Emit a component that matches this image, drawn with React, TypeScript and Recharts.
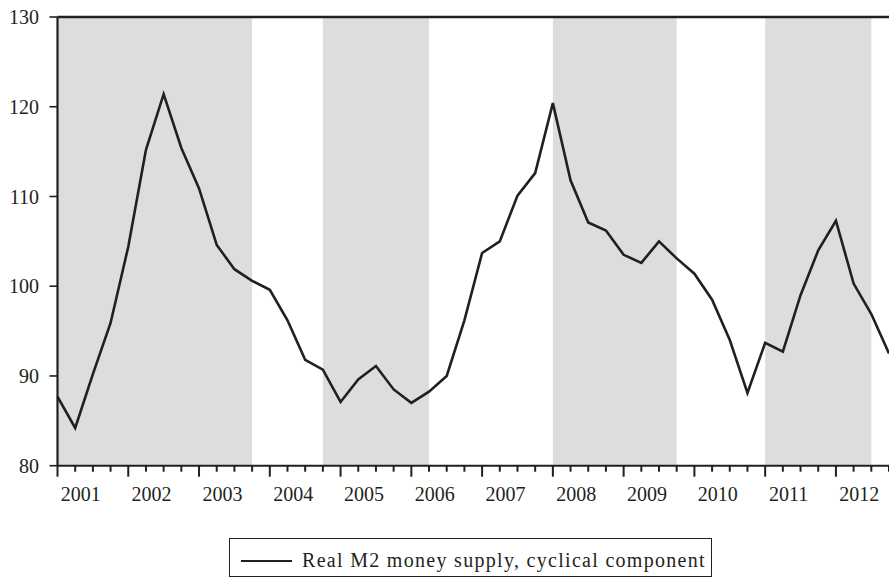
import React from "react";
import { LineChart, Line, XAxis, YAxis, ReferenceArea, ReferenceLine } from "recharts";

const years = ["2001", "2002", "2003", "2004", "2005", "2006", "2007", "2008", "2009", "2010", "2011", "2012"];

const m2Cycle = [
  87.7, 84.2, 90.2, 95.9, 104.4, 115.2, 121.4, 115.4, 110.9, 104.6, 101.9, 100.6,
  99.6, 96.2, 91.8, 90.7, 87.1, 89.6, 91.1, 88.5, 87.0, 88.25, 90.0, 96.2,
  103.7, 105.0, 110.1, 112.6, 120.4, 111.8, 107.1, 106.2, 103.5, 102.6, 105.0, 103.1,
  101.4, 98.5, 94.0, 88.1, 93.7, 92.7, 99.0, 104.0, 107.3, 100.3, 96.9, 92.5,
];

// shaded periods, as quarter indices (start, end)
const shadeStarts = [0, 15, 28, 40];
const shadeEnds = [11, 21, 35, 46];

const yTicks = [80, 90, 100, 110, 120, 130];

const INK = "#231f20";
const SHADE = "#dcdddf";
const FONT = "'Liberation Serif', 'Times New Roman', serif";

const PLOT_LEFT = 57.5;
const PLOT_RIGHT = 889;
const QUARTER_PX = (PLOT_RIGHT - PLOT_LEFT) / (m2Cycle.length - 1);
const LABEL_SHIFT = 1.32 * QUARTER_PX;

const data = m2Cycle.map((v, i) => ({ i, v }));
const quarterTicks = m2Cycle.map((_, i) => i);

const XTick = (props: any) => {
  const { x, y, payload } = props;
  const i = payload.value as number;
  const major = i % 4 === 0;
  const len = major ? 11 : 6;
  return (
    <g>
      <line x1={x} y1={y} x2={x} y2={y + len} stroke={INK} strokeWidth={2} />
      {major && (
        <text
          x={x + LABEL_SHIFT}
          y={y + 35.5}
          textAnchor="middle"
          fontFamily={FONT}
          fontSize={20}
          fill={INK}
        >
          {years[i / 4]}
        </text>
      )}
    </g>
  );
};

export default function App() {
  return (
    <div style={{ position: "absolute", left: 0, top: 0, width: 889, height: 579, overflow: "hidden", background: "#fff" }}>
      <LineChart
        width={900}
        height={579}
        data={data}
        margin={{ top: 17, right: 11, bottom: 0, left: 0 }}
      >
        {shadeStarts.map((s, k) => (
          <ReferenceArea
            key={k}
            x1={s}
            x2={shadeEnds[k]}
            fill={SHADE}
            fillOpacity={1}
            stroke="none"
          />
        ))}
        <XAxis
          type="number"
          dataKey="i"
          domain={[0, m2Cycle.length - 1]}
          ticks={quarterTicks}
          interval={0}
          tickLine={false}
          tickSize={0}
          tickMargin={0}
          height={113.3}
          axisLine={{ stroke: INK, strokeWidth: 2 }}
          tick={<XTick />}
        />
        <YAxis
          type="number"
          domain={[80, 130]}
          ticks={yTicks}
          interval={0}
          width={57.5}
          tickSize={8}
          tickMargin={10.5}
          axisLine={{ stroke: INK, strokeWidth: 2.2 }}
          tickLine={{ stroke: INK, strokeWidth: 1.6 }}
          tick={{ fill: INK, fontSize: 20, fontFamily: FONT }}
        />
        <ReferenceLine y={130} stroke={INK} strokeWidth={2.6} />
        <Line
          type="linear"
          dataKey="v"
          stroke={INK}
          strokeWidth={2.6}
          dot={false}
          activeDot={false}
          isAnimationActive={false}
        />
      </LineChart>
      <div
        style={{
          position: "absolute",
          left: 229,
          top: 538,
          width: 483,
          height: 39,
          boxSizing: "border-box",
          border: `1.5px solid ${INK}`,
          background: "#fff",
        }}
      >
        <div style={{ position: "absolute", left: 11, top: 21, width: 51, height: 2, background: INK }} />
        <div
          style={{
            position: "absolute",
            left: 72,
            top: 10.5,
            whiteSpace: "nowrap",
            fontFamily: FONT,
            fontSize: 20,
            lineHeight: "20px",
            letterSpacing: 1.3,
            color: INK,
          }}
        >
          Real M2 money supply, cyclical component
        </div>
      </div>
    </div>
  );
}
